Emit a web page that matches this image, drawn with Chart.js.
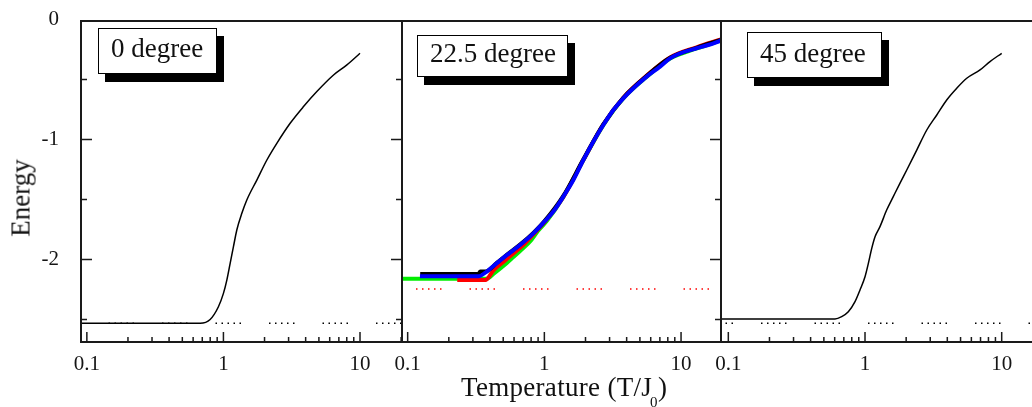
<!DOCTYPE html>
<html lang="en">
<head>
<meta charset="utf-8">
<title>Energy vs Temperature</title>
<script src="https://cdn.jsdelivr.net/npm/chart.js@4.4.1/dist/chart.umd.min.js"></script>
<style>
  html, body { margin: 0; padding: 0; background: #fff; overflow: hidden; }
  #stage {
    position: relative; width: 1032px; height: 407px;
    font-family: "Liberation Serif", "Times New Roman", serif; color: #111;
  }
  #stage canvas { position: absolute; left: 0; top: 0; }
  .tag {
    position: absolute; box-sizing: border-box;
    background: #fff; border: 1px solid #000; box-shadow: 7px 8px 0 #000;
    font-size: 27px; line-height: 27px; padding-left: 12px; white-space: pre;
  }
  #ytitle {
    position: absolute; left: 21px; top: 198px;
    transform: translate(-50%, -50%) rotate(-90deg);
    font-size: 27px; line-height: 27px; white-space: nowrap;
  }
  #xtitle {
    position: absolute; left: 461px; top: 374px;
    font-size: 27px; line-height: 27px; white-space: nowrap; letter-spacing: 0.3px;
  }
  #xtitle sub {
    font-size: 15px; vertical-align: baseline; position: relative; top: 11px; margin-left: -2px;
  }
</style>
</head>
<body>
<div id="stage">
  <canvas id="panel0" width="1032" height="407"></canvas>
  <canvas id="panel22" width="1032" height="407"></canvas>
  <canvas id="panel45" width="1032" height="407"></canvas>

  <div class="tag" style="left:98px; top:28px; width:119px; height:46px; padding-top:6px;">0 degree</div>
  <div class="tag" style="left:417px; top:35px; width:151px; height:42px; padding-top:4px;">22.5 degree</div>
  <div class="tag" style="left:747px; top:32px; width:135px; height:46px; padding-top:7px;">45 degree</div>

  <div id="ytitle">Energy</div>
  <div id="xtitle">Temperature (T/J<sub>0</sub>)</div>
</div>

<script>
// ──────────────────────────────────────────────
//  Axis setup
// ──────────────────────────────────────────────
const T_TICKS = [0.1, 0.2, 0.3, 0.4, 0.5, 0.6, 0.7, 0.8, 0.9,
                 1, 2, 3, 4, 5, 6, 7, 8, 9, 10, 20];
const T_LABELS = { '0.1': '0.1', '1': '1', '10': '10' };
const E_TICKS = [0, -0.5, -1, -1.5, -2, -2.5];
const E_MIN = -2.687;
const E_MAX = -0.013;

// ──────────────────────────────────────────────
//  Data
// ──────────────────────────────────────────────

// 0 degree
const T_0 = [0.0906, 0.675, 0.799, 0.919, 1.0, 1.059, 1.12, 1.184, 1.253, 1.364,
             1.483, 1.756, 2.08, 2.46, 3.08, 3.86, 4.83, 6.40, 8.02, 10.0];
const E_0 = [-2.53, -2.53, -2.499, -2.393, -2.282, -2.171, -2.032, -1.893, -1.754, -1.615,
             -1.504, -1.338, -1.171, -1.032, -0.865, -0.726, -0.601, -0.463, -0.379, -0.282];
const REF_T_0 = [0.0906, 20.3];
const REF_E_0 = [-2.53, -2.53];

// 22.5 degree (four runs)
const T_22_BLUE = [0.123, 0.33, 0.379, 0.449, 0.531, 0.664, 0.831, 1.0, 1.164, 1.377,
                   1.63, 1.93, 2.28, 2.70, 3.20, 3.78, 4.48, 5.61, 7.02, 8.31,
                   9.84, 13.0, 18.7, 19.6];
const E_22_BLUE = [-2.14, -2.14, -2.10, -2.03, -1.963, -1.879, -1.782, -1.685, -1.60, -1.476,
                   -1.338, -1.171, -1.018, -0.879, -0.754, -0.657, -0.573, -0.476, -0.393, -0.324,
                   -0.282, -0.240, -0.185, -0.172];
const T_22_BLACK = [0.1235, 0.33, 0.34, 0.37, 0.449, 0.531, 0.664, 0.831, 1.0, 1.377,
                    1.93, 2.70, 3.78, 5.61, 8.31, 13.0, 19.6];
const E_22_BLACK = [-2.12, -2.12, -2.10, -2.10, -2.028, -1.96, -1.876, -1.778, -1.682, -1.47,
                    -1.165, -0.873, -0.652, -0.47, -0.32, -0.236, -0.17];
const T_22_RED = [0.2306, 0.37, 0.424, 0.501, 0.593, 0.70, 0.831, 1.0, 1.377, 1.93,
                  2.70, 3.78, 5.61, 8.31, 13.0, 19.6];
const E_22_RED = [-2.17, -2.17, -2.09, -2.02, -1.95, -1.88, -1.79, -1.69, -1.478, -1.17,
                  -0.875, -0.652, -0.468, -0.316, -0.232, -0.166];
const T_22_GREEN = [0.0909, 0.38, 0.424, 0.501, 0.593, 0.702, 0.786, 0.90, 1.041, 1.377,
                    1.93, 2.70, 3.78, 5.61, 8.31, 13.0, 19.6];
const E_22_GREEN = [-2.16, -2.16, -2.12, -2.054, -1.98, -1.904, -1.85, -1.76, -1.68, -1.478,
                    -1.172, -0.88, -0.658, -0.478, -0.326, -0.242, -0.174];
const REF_T_22 = [0.0909, 19.6];
const REF_E_22 = [-2.245, -2.245];

// 45 degree
const T_45 = [0.0884, 0.603, 0.675, 0.755, 0.845, 0.919, 1.0, 1.058, 1.12, 1.184,
              1.287, 1.44, 1.61, 1.80, 2.02, 2.39, 2.83, 3.35, 3.96, 4.69,
              5.55, 6.94, 8.21, 10.0];
const E_45 = [-2.496, -2.496, -2.476, -2.435, -2.351, -2.254, -2.143, -2.032, -1.907, -1.81,
              -1.726, -1.588, -1.476, -1.365, -1.254, -1.088, -0.921, -0.796, -0.671, -0.573,
              -0.49, -0.421, -0.351, -0.282];
const REF_T_45 = [0.0884, 16.66];
const REF_E_45 = [-2.53, -2.53];

// ──────────────────────────────────────────────
//  Styling
// ──────────────────────────────────────────────
const TEXT_COLOR = '#151515';
const FRAME_COLOR = '#1a1a1a';
const SERIF = '"Liberation Serif", "Times New Roman", serif';
// groups of five dots, then a long gap
const DOT_PATTERN = [1.5, 4.5, 1.5, 4.5, 1.5, 4.5, 1.5, 4.5, 1.5, 28];

// ──────────────────────────────────────────────
//  Plugin: frame + inward tick marks
// ──────────────────────────────────────────────
const framePlugin = {
    id: 'frame',
    afterDatasetsDraw(chart, args, opts) {
        const { ctx, chartArea: a, scales: { x, y } } = chart;
        ctx.save();
        ctx.strokeStyle = FRAME_COLOR;
        ctx.lineWidth = 2;
        ctx.beginPath();
        ctx.moveTo(a.left - 1, a.top); ctx.lineTo(a.right + 1, a.top);
        ctx.moveTo(a.left - 1, a.bottom); ctx.lineTo(a.right + 1, a.bottom);
        ctx.moveTo(a.left, a.top); ctx.lineTo(a.left, a.bottom);
        if (opts.rightEdge) { ctx.moveTo(a.right, a.top); ctx.lineTo(a.right, a.bottom); }
        ctx.stroke();

        ctx.lineWidth = 1.5;
        ctx.beginPath();
        T_TICKS.forEach(v => {
            if (v < x.min || v > x.max) return;
            const px = x.getPixelForValue(v);
            const len = Number.isInteger(Math.log10(v)) ? 10 : 5;
            ctx.moveTo(px, a.bottom); ctx.lineTo(px, a.bottom - len);
        });
        E_TICKS.forEach(v => {
            if (v < y.min || v > y.max) return;
            const py = y.getPixelForValue(v);
            const len = Number.isInteger(v) ? 11 : 6;
            if (opts.leftTicks) { ctx.moveTo(a.left, py); ctx.lineTo(a.left + len, py); }
            if (opts.rightTicks) { ctx.moveTo(a.right, py); ctx.lineTo(a.right - len, py); }
        });
        ctx.stroke();
        ctx.restore();
    }
};

// ──────────────────────────────────────────────
//  Dataset helpers
// ──────────────────────────────────────────────
function curve(T, E, color, width, order) {
    return {
        data: T.map((t, i) => ({ x: t, y: E[i] })),
        borderColor: color,
        borderWidth: width,
        pointRadius: 0,
        cubicInterpolationMode: 'monotone',
        order: order,
        clip: 0,
    };
}

function dotted(T, E, color, offset) {
    return {
        data: T.map((t, i) => ({ x: t, y: E[i] })),
        borderColor: color,
        borderWidth: 1.5,
        borderDash: DOT_PATTERN,
        borderDashOffset: offset,
        borderCapStyle: 'butt',
        pointRadius: 0,
        order: 10,
        clip: 0,
    };
}

// ──────────────────────────────────────────────
//  Panel factory
// ──────────────────────────────────────────────
function makePanel(id, cfg) {
    const ctx = document.getElementById(id);
    return new Chart(ctx, {
        type: 'line',
        data: { datasets: cfg.datasets },
        options: {
            responsive: false,
            animation: false,
            events: [],
            layout: { padding: cfg.padding },
            plugins: {
                legend: { display: false },
                tooltip: { enabled: false },
                frame: cfg.frame,
            },
            scales: {
                x: {
                    type: 'logarithmic',
                    min: cfg.tMin,
                    max: cfg.tMax,
                    grid: { display: false },
                    border: { display: false },
                    afterBuildTicks: s => {
                        s.ticks = T_TICKS.filter(v => v >= s.min && v <= s.max).map(v => ({ value: v }));
                    },
                    afterFit: s => {
                        s.height = 65;
                        s.paddingLeft = 0;
                        s.paddingRight = 0;
                    },
                    ticks: {
                        autoSkip: false,
                        maxRotation: 0,
                        padding: 2,
                        color: TEXT_COLOR,
                        font: { family: SERIF, size: 21 },
                        callback: v => T_LABELS[String(v)] || '',
                    }
                },
                y: {
                    type: 'linear',
                    display: cfg.showY,
                    min: E_MIN,
                    max: E_MAX,
                    grid: { display: false },
                    border: { display: false },
                    afterBuildTicks: s => { s.ticks = E_TICKS.map(v => ({ value: v })); },
                    afterFit: s => {
                        if (cfg.showY) s.width = 81;
                        s.paddingTop = 0;
                        s.paddingBottom = 0;
                    },
                    ticks: {
                        autoSkip: false,
                        padding: 14,
                        color: TEXT_COLOR,
                        font: { family: SERIF, size: 21 },
                        callback: v => Number.isInteger(v) ? String(v) : '',
                    }
                }
            }
        },
        plugins: [framePlugin]
    });
}

// ──────────────────────────────────────────────
//  Build the three panels
// ──────────────────────────────────────────────
makePanel('panel0', {
    showY: true,
    tMin: 0.0906, tMax: 20.3,
    padding: { left: 0, right: 630, top: 21, bottom: 0 },
    frame: { leftTicks: true, rightTicks: true, rightEdge: true },
    datasets: [
        curve(T_0, E_0, '#000000', 1.5, 0),
        dotted(REF_T_0, REF_E_0, '#000000', 26),
    ]
});

makePanel('panel22', {
    showY: false,
    tMin: 0.0909, tMax: 19.6,
    padding: { left: 402, right: 311, top: 21, bottom: 0 },
    frame: { leftTicks: false, rightTicks: true, rightEdge: true },
    datasets: [
        curve(T_22_BLUE, E_22_BLUE, '#0000ff', 4, 0),
        curve(T_22_BLACK, E_22_BLACK, '#000000', 4, 1),
        curve(T_22_RED, E_22_RED, '#ff0000', 4, 2),
        curve(T_22_GREEN, E_22_GREEN, '#00ee00', 4, 3),
        dotted(REF_T_22, REF_E_22, '#ff0000', 39.5),
    ]
});

makePanel('panel45', {
    showY: false,
    tMin: 0.0884, tMax: 16.66,
    padding: { left: 721, right: 0, top: 21, bottom: 0 },
    frame: { leftTicks: false, rightTicks: false, rightEdge: false },
    datasets: [
        curve(T_45, E_45, '#000000', 1.5, 0),
        dotted(REF_T_45, REF_E_45, '#000000', 13.5),
    ]
});
</script>
</body>
</html>
